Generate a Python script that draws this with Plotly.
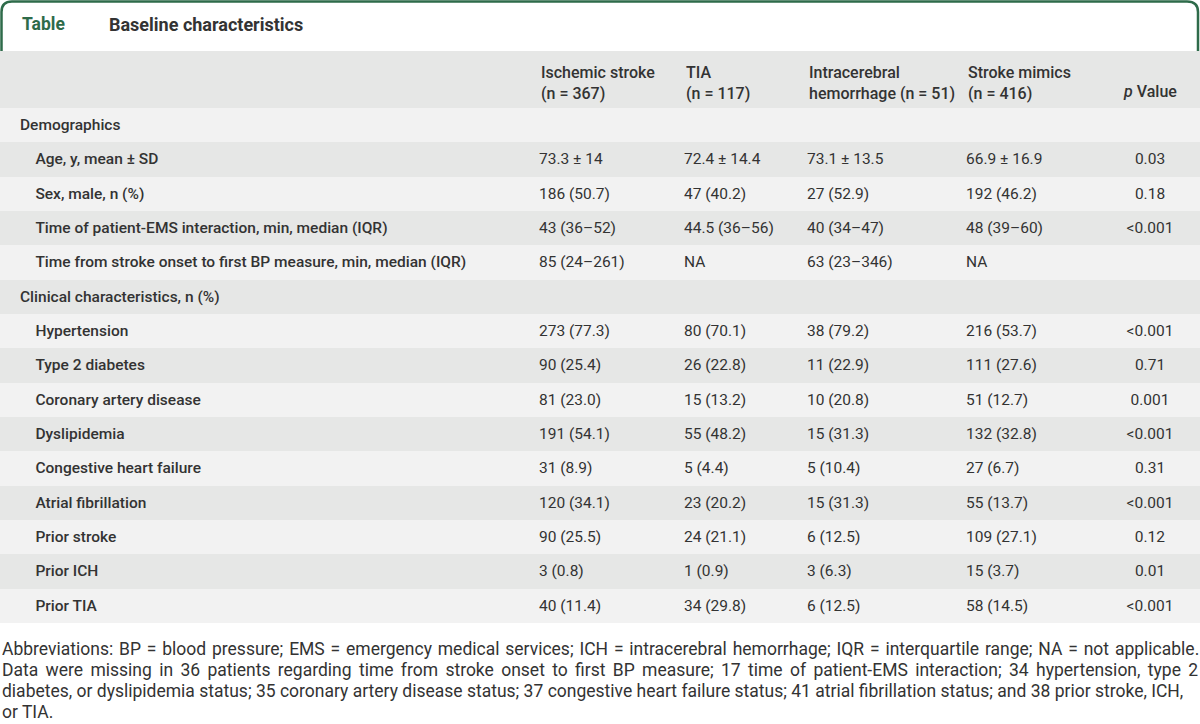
import plotly.graph_objects as go

# ---- data ----
labels = ["Demographics", "Age, y, mean ± SD", "Sex, male, n (%)",
          "Time of patient-EMS interaction, min, median (IQR)",
          "Time from stroke onset to first BP measure, min, median (IQR)",
          "Clinical characteristics, n (%)", "Hypertension", "Type 2 diabetes",
          "Coronary artery disease", "Dyslipidemia", "Congestive heart failure",
          "Atrial fibrillation", "Prior stroke", "Prior ICH", "Prior TIA"]
is_section = [True, False, False, False, False, True, False, False, False,
              False, False, False, False, False, False]
ischemic = ["", "73.3 ± 14", "186 (50.7)", "43 (36–52)", "85 (24–261)", "",
            "273 (77.3)", "90 (25.4)", "81 (23.0)", "191 (54.1)", "31 (8.9)",
            "120 (34.1)", "90 (25.5)", "3 (0.8)", "40 (11.4)"]
tia = ["", "72.4 ± 14.4", "47 (40.2)", "44.5 (36–56)", "NA", "",
       "80 (70.1)", "26 (22.8)", "15 (13.2)", "55 (48.2)", "5 (4.4)",
       "23 (20.2)", "24 (21.1)", "1 (0.9)", "34 (29.8)"]
ich = ["", "73.1 ± 13.5", "27 (52.9)", "40 (34–47)", "63 (23–346)", "",
       "38 (79.2)", "11 (22.9)", "10 (20.8)", "15 (31.3)", "5 (10.4)",
       "15 (31.3)", "6 (12.5)", "3 (6.3)", "6 (12.5)"]
mimics = ["", "66.9 ± 16.9", "192 (46.2)", "48 (39–60)", "NA", "",
          "216 (53.7)", "111 (27.6)", "51 (12.7)", "132 (32.8)", "27 (6.7)",
          "55 (13.7)", "109 (27.1)", "15 (3.7)", "58 (14.5)"]
pvals = ["", "0.03", "0.18", "&lt;0.001", "", "", "&lt;0.001", "0.71", "0.001",
         "&lt;0.001", "0.31", "&lt;0.001", "0.12", "0.01", "&lt;0.001"]
headers = ["Ischemic stroke<br>(n = 367)", "TIA<br>(n = 117)",
           "Intracerebral<br>hemorrhage (n = 51)", "Stroke mimics<br>(n = 416)"]
p_header = "<i>p</i> Value"
title_tag = "Table"
title_text = "Baseline characteristics"
footnote_lines = [
    "Abbreviations: BP = blood pressure; EMS = emergency medical services; ICH = intracerebral hemorrhage; IQR = interquartile range; NA = not applicable.",
    "Data were missing in 36 patients regarding time from stroke onset to first BP measure; 17 time of patient-EMS interaction; 34 hypertension, type 2",
    "diabetes, or dyslipidemia status; 35 coronary artery disease status; 37 congestive heart failure status; 41 atrial fibrillation status; and 38 prior stroke, ICH,",
    "or TIA.",
]

# ---- styling ----
W, H = 1200, 724
GREEN = "#2E6B4A"
DARK = "#E6E7E6"
LIGHT = "#F2F2F2"
TXT = "#333333"
FONT = "Roboto"

n = len(labels)
row_fill = [LIGHT if i % 2 == 0 else DARK for i in range(n)]


def mk(s):
    # markup wrapper so every cell is laid out the same way
    return "<span>" + s + "</span>" if s else s


label_cells = [mk(l) if s else mk("\u00a0\u00a0\u00a0\u00a0" + l)
               for l, s in zip(labels, is_section)]
blank = [""] * n
cols = [blank, label_cells] + [[mk(v) for v in c] for c in (ischemic, tia, ich, mimics, pvals)]

col_widths = [12, 519, 145, 123, 159, 142, 100]
col_left = [sum(col_widths[:i]) for i in range(len(col_widths))]
table_top, table_bottom = 51, 623
header_h = 57
cell_h = (table_bottom - table_top - header_h) / n

fig = go.Figure()
fig.add_trace(go.Table(
    domain=dict(x=[0, 1], y=[1 - (table_bottom + 3) / H, 1 - table_top / H]),
    columnwidth=col_widths,
    header=dict(
        values=[""] * 7,
        fill_color=DARK,
        line=dict(color=DARK, width=0),
        height=header_h,
    ),
    cells=dict(
        values=cols,
        fill_color=[row_fill] * 7,
        line=dict(color=[row_fill] * 7, width=0),
        align=["left", "left", "left", "left", "left", "left", "center"],
        font=dict(family=FONT,
                  size=15.5,
                  color=TXT,
                  weight=[400, 500, 400, 400, 400, 400, 400]),
        height=cell_h,
    ),
))

fig.update_layout(
    width=W, height=H,
    margin=dict(l=0, r=0, t=0, b=0),
    paper_bgcolor="white", plot_bgcolor="white",
    xaxis=dict(range=[0, W], visible=False, domain=[0, 1], fixedrange=True),
    yaxis=dict(range=[H, 0], visible=False, domain=[0, 1], fixedrange=True),
    showlegend=False,
)

# column headers (text of the table header row)
for h, ci in zip(headers, [2, 3, 4, 5]):
    fig.add_annotation(x=col_left[ci] + 8, y=83, xref="x", yref="y", text=h,
                       showarrow=False, xanchor="left", yanchor="middle", align="left",
                       font=dict(family=FONT, size=16, color=TXT, weight=500))
fig.add_annotation(x=col_left[6] + col_widths[6] / 2, y=91, xref="x", yref="y", text=p_header,
                   showarrow=False, xanchor="center", yanchor="middle",
                   font=dict(family=FONT, size=16, color=TXT, weight=500))

# title box
fig.add_shape(type="path", xref="x", yref="y",
              path="M 1.5 51 L 1.5 12 Q 1.5 1.5 12 1.5 L 1187 1.5 Q 1198 1.5 1198 12 L 1198 51",
              line=dict(color=GREEN, width=2.5), layer="above")

fig.add_annotation(x=20, y=24, xref="x", yref="y", text="<b>" + title_tag + "</b>",
                   showarrow=False, xanchor="left", yanchor="middle",
                   font=dict(family=FONT, size=17.5, color=GREEN))
fig.add_annotation(x=107, y=24, xref="x", yref="y", text="<b>" + title_text + "</b>",
                   showarrow=False, xanchor="left", yanchor="middle",
                   font=dict(family=FONT, size=18, color=TXT))

foot_y = [649, 670, 691, 712]
foot_ws = [1.5, 3, 0, 0]
for line, yy, ws in zip(footnote_lines, foot_y, foot_ws):
    txt = line if ws == 0 else '<span style="word-spacing:%gpx">%s</span>' % (ws, line)
    fig.add_annotation(x=0, y=yy, xref="x", yref="y", text=txt, height=20,
                       showarrow=False, xanchor="left", yanchor="middle", align="left",
                       font=dict(family=FONT, size=17.5, color=TXT))

fig.write_html("out.html", config={"displayModeBar": False},
               post_script="document.body.style.margin='0';")
